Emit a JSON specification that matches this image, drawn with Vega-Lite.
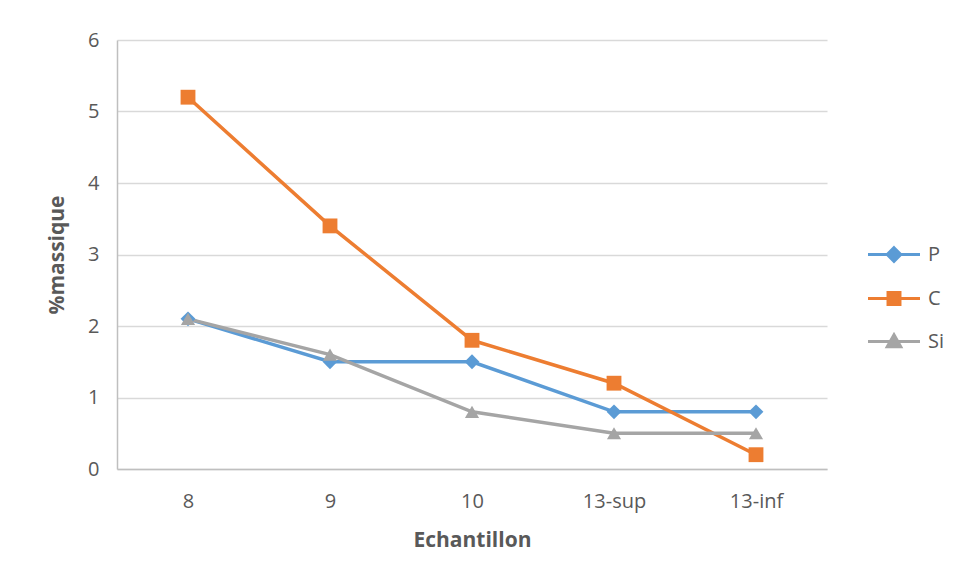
{
  "$schema": "https://vega.github.io/schema/vega-lite/v6.json",
  "width": 710,
  "height": 429,
  "autosize": {"type": "none"},
  "padding": {"left": 117, "top": 40, "right": 131, "bottom": 112},
  "background": "white",
  "config": {"view": {"stroke": null}, "font": "Open Sans"},
  "data": {
    "values": [
      {"sample": "8", "element": "P", "value": 2.1},
      {"sample": "9", "element": "P", "value": 1.5},
      {"sample": "10", "element": "P", "value": 1.5},
      {"sample": "13-sup", "element": "P", "value": 0.8},
      {"sample": "13-inf", "element": "P", "value": 0.8},
      {"sample": "8", "element": "C", "value": 5.2},
      {"sample": "9", "element": "C", "value": 3.4},
      {"sample": "10", "element": "C", "value": 1.8},
      {"sample": "13-sup", "element": "C", "value": 1.2},
      {"sample": "13-inf", "element": "C", "value": 0.2},
      {"sample": "8", "element": "Si", "value": 2.1},
      {"sample": "9", "element": "Si", "value": 1.6},
      {"sample": "10", "element": "Si", "value": 0.8},
      {"sample": "13-sup", "element": "Si", "value": 0.5},
      {"sample": "13-inf", "element": "Si", "value": 0.5}
    ]
  },
  "encoding": {
    "x": {
      "field": "sample",
      "type": "ordinal",
      "sort": ["8", "9", "10", "13-sup", "13-inf"],
      "scale": {"type": "point", "padding": 0.5},
      "axis": {
        "title": "Echantillon",
        "labelAngle": 0,
        "domainColor": "#bfbfbf",
        "domainWidth": 1.5,
        "ticks": false,
        "labelFontSize": 20,
        "labelColor": "#595959",
        "labelPadding": 22,
        "titleFontSize": 21,
        "titleFontWeight": "bold",
        "titleColor": "#595959",
        "titlePadding": 18
      }
    },
    "y": {
      "field": "value",
      "type": "quantitative",
      "scale": {"domain": [0, 6], "nice": false},
      "axis": {
        "title": "%massique",
        "values": [0, 1, 2, 3, 4, 5, 6],
        "grid": true,
        "gridColor": "#d9d9d9",
        "gridWidth": 1.5,
        "domainColor": "#bfbfbf",
        "domainWidth": 1.5,
        "ticks": false,
        "labelFontSize": 20,
        "labelColor": "#595959",
        "labelPadding": 18,
        "titleFontSize": 21,
        "titleFontWeight": "bold",
        "titleColor": "#595959",
        "titlePadding": 20
      }
    },
    "color": {
      "field": "element",
      "type": "nominal",
      "scale": {"domain": ["P", "C", "Si"], "range": ["#5b9bd5", "#ed7d31", "#a5a5a5"]},
      "legend": {
        "title": null,
        "orient": "none",
        "legendX": 751,
        "legendY": 200,
        "symbolSize": 676,
        "symbolStrokeWidth": 3,
        "labelFontSize": 20,
        "labelColor": "#595959",
        "labelOffset": 31,
        "rowPadding": 16,
        "encode": {
          "symbols": {
            "update": {
              "shape": {"signal": "datum.value === 'P' ? 'M-2,0H2M0,-0.52L0.52,0L0,0.52L-0.52,0Z' : datum.value === 'C' ? 'M-2,0H2M-0.46,-0.46H0.46V0.46H-0.46Z' : 'M-2,0H2M0,-0.52L0.52,0.4H-0.52Z'"},
              "fill": {"scale": "color", "field": "value"},
              "stroke": {"scale": "color", "field": "value"},
              "strokeWidth": {"value": 3},
              "xc": {"value": 26}
            }
          }
        }
      }
    }
  },
  "layer": [
    {"mark": {"type": "line", "strokeWidth": 3.5}},
    {
      "transform": [{"filter": "datum.element === 'P'"}],
      "mark": {"type": "point", "shape": "diamond", "filled": true, "size": 220, "opacity": 1}
    },
    {
      "transform": [{"filter": "datum.element === 'C'"}],
      "mark": {"type": "point", "shape": "square", "filled": true, "size": 220, "opacity": 1}
    },
    {
      "transform": [{"filter": "datum.element === 'Si'"}],
      "mark": {"type": "point", "shape": "triangle-up", "filled": true, "size": 200, "opacity": 1}
    }
  ]
}
